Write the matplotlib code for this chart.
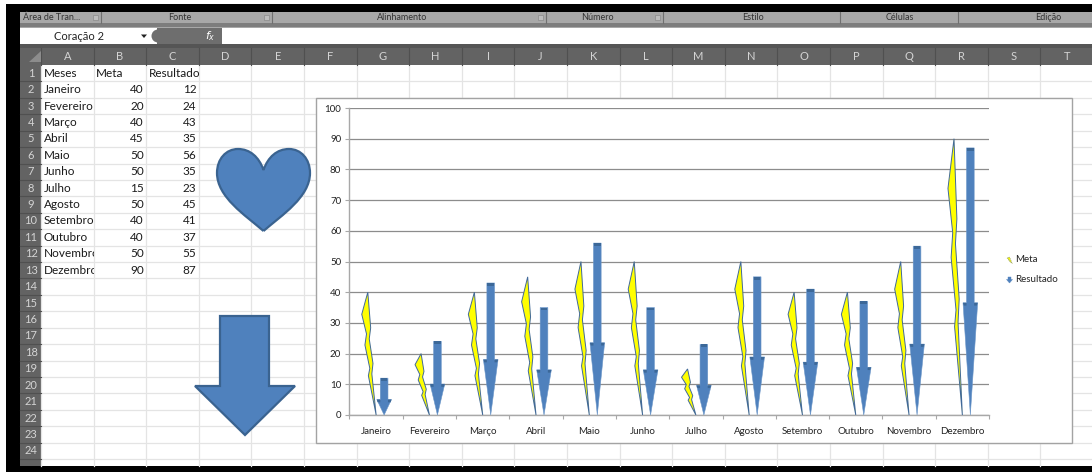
import matplotlib
matplotlib.use("Agg")
import matplotlib.pyplot as plt
from matplotlib.patches import PathPatch, Polygon, Rectangle
from matplotlib.path import Path

plt.rcParams['font.family'] = ['Lato', 'DejaVu Sans']

meses = ["Janeiro", "Fevereiro", "Março", "Abril", "Maio", "Junho", "Julho",
         "Agosto", "Setembro", "Outubro", "Novembro", "Dezembro"]
meta = [40, 20, 40, 45, 50, 50, 15, 50, 40, 40, 50, 90]
resultado = [12, 24, 43, 35, 56, 35, 23, 45, 41, 37, 55, 87]
colunas = list("ABCDEFGHIJKLMNOPQRST")
ribbon_grupos = ["Área de Tran...", "Fonte", "Alinhamento", "Número", "Estilo", "Células", "Edição"]
y_ticks = list(range(0, 101, 10))

W, H = 1092, 472
BLUE = '#4f81bd'
DARK = '#3c6898'
EDGE = '#41699a'
HEAD = '#636363'
HEAD_TXT = '#d4d4d4'

# contorno do raio: u = 0..1 na largura, v = 0..1 na altura
BOLT = [(0.42, 1.0), (0.62, 0.71), (0.52, 0.62), (0.78, 0.42), (0.70, 0.335), (1.0, 0.0),
        (0.46, 0.32), (0.56, 0.38), (0.22, 0.57), (0.33, 0.66), (0.0, 0.82)]

fig = plt.figure(figsize=(W / 100, H / 100), dpi=100, facecolor='white')

# ==================== planilha (em pixels) ====================
bg = fig.add_axes([0, 0, 1, 1])
bg.set_xlim(0, W)
bg.set_ylim(H, 0)
bg.axis('off')

ROW_TOP, ROW_H = 65, 16.42
COL_LEFT, COL_W = 41, 52.6

bg.add_patch(Rectangle((6, 4), W - 6, 8, color='black', lw=0))
bg.add_patch(Rectangle((6, 4), 14, H, color='black', lw=0))
bg.add_patch(Rectangle((20, 12), W, 16, color='#a8a8a8', lw=0))
bg.add_patch(Rectangle((20, 23), W, 4, color='#7d7d7d', lw=0))
bg.add_patch(Rectangle((20, 44), W, 4, color='#555555', lw=0))
bg.add_patch(Rectangle((20, 48), W, 17, color=HEAD, lw=0))
bg.add_patch(Rectangle((20, 65), 21, 401, color=HEAD, lw=0))
bg.add_patch(Rectangle((20, 466), W, 6, color='black', lw=0))

# ribbon
for x in [101, 272, 546, 663, 840, 958]:
    bg.plot([x, x], [12, 23], color='#707070', lw=0.8)
ribbon_x = [52, 180, 402, 597, 753, 900, 1048]
for nome, x in zip(ribbon_grupos, ribbon_x):
    bg.text(x, 17.5, nome, ha='center', va='center', fontsize=6.5, color='#333333')
for x in [95, 266, 540, 657]:
    bg.add_patch(Rectangle((x - 2, 15), 5, 5, fc='#bdbdbd', ec='#8a8a8a', lw=0.5))

# barra de fórmulas
bg.text(54, 36, "Coração 2", ha='left', va='center', fontsize=8, color='#222222')
bg.add_patch(Polygon([(141, 34.5), (147, 34.5), (144, 38)], color='#222222', lw=0))
bg.add_patch(Rectangle((157, 28), 65, 16, color='#6e6e6e', lw=0))
bg.add_patch(plt.Circle((158, 36), 6.5, color='#6e6e6e', lw=0))
bg.add_patch(Rectangle((222, 28), W, 16, color='white', lw=0))
bg.text(210, 36, r"$f_x$", ha='center', va='center', fontsize=8, color='white')

# grade
for c in range(len(colunas) + 1):
    x = COL_LEFT + c * COL_W
    bg.plot([x, x], [65, 466], color='#e4e4e4', lw=0.9, zorder=1)
    bg.plot([x, x], [48, 65], color='#505050', lw=0.8, zorder=1)
for r in range(1, 26):
    y = ROW_TOP + r * ROW_H
    bg.plot([41, W], [y, y], color='#e4e4e4', lw=0.9, zorder=1)
    bg.plot([20, 41], [y, y], color='#505050', lw=0.8, zorder=1)

for c, nome in enumerate(colunas):
    bg.text(COL_LEFT + (c + 0.5) * COL_W, 56.5, nome, ha='center', va='center',
            fontsize=8, color=HEAD_TXT)
for r in range(1, 25):
    bg.text(31, ROW_TOP + (r - 0.5) * ROW_H, str(r), ha='center', va='center',
            fontsize=8, color=HEAD_TXT)
bg.add_patch(Polygon([(29, 62), (41, 62), (41, 51)], color='#8c8c8c', lw=0))

# tabela
cab_y = ROW_TOP + 0.5 * ROW_H
for c, nome in enumerate(["Meses", "Meta", "Resultado"]):
    bg.text(COL_LEFT + c * COL_W + 2.5, cab_y, nome, ha='left', va='center', fontsize=8.5, color='#1a1a1a')
for i, mes in enumerate(meses):
    y = ROW_TOP + (i + 1.5) * ROW_H
    t = bg.text(COL_LEFT + 2.5, y, mes, ha='left', va='center', fontsize=8.5, color='#1a1a1a', clip_on=True)
    # nomes longos ficam cortados na borda da coluna A
    t.set_clip_path(Rectangle((COL_LEFT, y - 9), COL_W, 18, transform=bg.transData))
    bg.text(COL_LEFT + 2 * COL_W - 2.5, y, str(meta[i]), ha='right', va='center', fontsize=8.5, color='#1a1a1a')
    bg.text(COL_LEFT + 3 * COL_W - 2.5, y, str(resultado[i]), ha='right', va='center', fontsize=8.5, color='#1a1a1a')

# coração e seta soltos na planilha
heart = Path([(263.5, 231),
              (245, 215), (217, 197), (217, 173),
              (217, 159), (226, 149), (238, 149),
              (250, 149), (259, 157), (263.5, 170),
              (268, 157), (277, 149), (289, 149),
              (301, 149), (310, 159), (310, 173),
              (310, 197), (282, 215), (263.5, 231)],
             [Path.MOVETO] + [Path.CURVE4] * 18)
bg.add_patch(PathPatch(heart, fc=BLUE, ec='#3a6390', lw=1.6, zorder=3))
bg.add_patch(Polygon([(220, 316), (269, 316), (269, 386), (295, 386), (245, 435), (195, 386), (220, 386)],
                     fc=BLUE, ec='#3a6390', lw=1.6, zorder=3))

# moldura do gráfico
bg.add_patch(Rectangle((316, 97.5), 755.5, 345.5, fc='white', ec='#a3a3a3', lw=1, zorder=2))

# legenda
leg_bolt_w, leg_bolt_h = 5.5, 6.5
bg.add_patch(Polygon([(1007 + u * leg_bolt_w, 263.5 - v * leg_bolt_h) for u, v in BOLT],
                     fc='yellow', ec='#8f9a60', lw=0.3, zorder=3))
bg.add_patch(Polygon([(1008, 277), (1011, 277), (1011, 279.5), (1012.5, 279.5), (1009.5, 283),
                      (1006.5, 279.5), (1008, 279.5)], fc=BLUE, ec=BLUE, lw=0.3, zorder=3))
bg.text(1015, 260, "Meta", ha='left', va='center', fontsize=7, color='#222222', zorder=3)
bg.text(1015, 280, "Resultado", ha='left', va='center', fontsize=7, color='#222222', zorder=3)

# ==================== gráfico ====================
x0, x1, y0, y1 = 349.5, 989, 415, 108
ax = fig.add_axes([x0 / W, 1 - y0 / H, (x1 - x0) / W, (y0 - y1) / H], zorder=5)
ax.patch.set_alpha(0)
ax.set_xlim(0, 12)
ax.set_ylim(0, 100)
ax.set_axisbelow(True)
ax.grid(True, axis='y', color='#8c8c8c', lw=0.9)
for lado in ['top', 'right']:
    ax.spines[lado].set_visible(False)
for lado in ['left', 'bottom']:
    ax.spines[lado].set_color('#a8a8a8')
    ax.spines[lado].set_linewidth(1)

ax.set_yticks(y_ticks)
ax.tick_params(axis='y', labelsize=7, colors='#222222', color='#a8a8a8', length=3, pad=3)
ax.set_xticks(range(13))
ax.set_xticklabels([])
ax.tick_params(axis='x', which='major', color='#a8a8a8', length=3)
ax.set_xticks([i + 0.5 for i in range(12)], minor=True)
ax.set_xticklabels(meses, minor=True, fontsize=7, color='#222222')
ax.tick_params(axis='x', which='minor', length=0, pad=9)

BOLT_W = 0.27
ARROW_OFF = 0.15
HEAD_W = 0.275
SHAFT_W = 0.144
HEAD_FRAC = 0.42
BAND = 0.9

for i, (m, r) in enumerate(zip(meta, resultado)):
    cx = i + 0.5
    # Meta: raio
    ax.fill([cx - BOLT_W + u * BOLT_W for u, v in BOLT], [v * m for u, v in BOLT],
            fc='yellow', ec=EDGE, lw=0.7, zorder=3)
    # Resultado: seta
    ax_c = cx + ARROW_OFF
    h = HEAD_FRAC * r
    ax.fill([ax_c - SHAFT_W / 2, ax_c + SHAFT_W / 2, ax_c + SHAFT_W / 2, ax_c + HEAD_W / 2, ax_c,
             ax_c - HEAD_W / 2, ax_c - SHAFT_W / 2],
            [r, r, h, h, 0, h, h], fc=BLUE, ec='#6b96c8', lw=0.4, zorder=3)
    ax.fill([ax_c - SHAFT_W / 2 + 0.01, ax_c + SHAFT_W / 2 - 0.01, ax_c + SHAFT_W / 2 - 0.01, ax_c - SHAFT_W / 2 + 0.01],
            [r, r, r - BAND, r - BAND], fc=DARK, lw=0, zorder=4)
    for sinal in (-1, 1):
        ax.fill([ax_c + sinal * SHAFT_W / 2, ax_c + sinal * HEAD_W / 2, ax_c + sinal * (HEAD_W / 2 - 0.015),
                 ax_c + sinal * SHAFT_W / 2],
                [h, h, h - BAND, h - BAND], fc=DARK, lw=0, zorder=4)

fig.savefig("out.png", dpi=100)
